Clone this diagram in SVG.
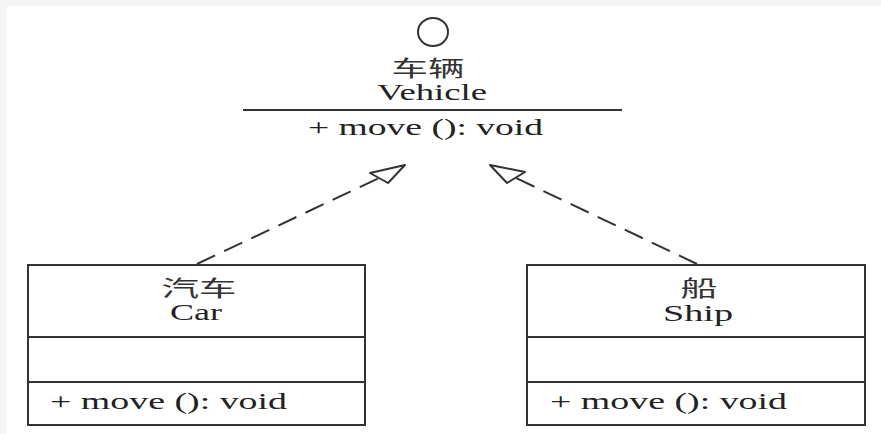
<svg xmlns="http://www.w3.org/2000/svg" width="881" height="434" viewBox="0 0 881 434">
<style>
.t{font-family:"Liberation Serif","Noto Sans CJK SC",serif;font-size:23px;fill:#222;text-anchor:middle}
.m{font-family:"Liberation Serif",serif;font-size:23px;fill:#222}
.c{font-family:"Noto Sans CJK SC",sans-serif;font-size:22px;fill:#333;text-anchor:middle}
.box{fill:#fff;stroke:#333;stroke-width:2}
.ln{stroke:#333;stroke-width:2;fill:none}
.dash{stroke:#333;stroke-width:2;fill:none;stroke-dasharray:20 10}
.head{fill:#fff;stroke:#333;stroke-width:2;stroke-linejoin:round}
</style>
<rect width="881" height="434" fill="#f5f5f5"/>
<rect x="7" y="6" width="874" height="428" fill="#fff"/>
<g id="vehicle">
<ellipse cx="433" cy="32" rx="15" ry="14" class="ln"/>
<text x="428" y="76" class="c" textLength="73" lengthAdjust="spacingAndGlyphs">车辆</text>
<text x="432" y="100" class="t" textLength="110" lengthAdjust="spacingAndGlyphs">Vehicle</text>
<line x1="243" y1="110" x2="622" y2="110" class="ln"/>
<text x="308" y="135" class="m" textLength="235" lengthAdjust="spacingAndGlyphs">+ move (): void</text>
</g>
<g id="car">
<rect x="28" y="265" width="337" height="160" class="box"/>
<line x1="28" y1="337" x2="365" y2="337" class="ln"/>
<line x1="28" y1="382" x2="365" y2="382" class="ln"/>
<text x="199" y="296" class="c" textLength="75" lengthAdjust="spacingAndGlyphs">汽车</text>
<text x="196" y="320" class="t" textLength="52" lengthAdjust="spacingAndGlyphs">Car</text>
<text x="50" y="409" class="m" textLength="237" lengthAdjust="spacingAndGlyphs">+ move (): void</text>
</g>
<g id="ship">
<rect x="527" y="265" width="338" height="160" class="box"/>
<line x1="527" y1="337" x2="865" y2="337" class="ln"/>
<line x1="527" y1="382" x2="865" y2="382" class="ln"/>
<text x="699" y="296" class="c" textLength="37" lengthAdjust="spacingAndGlyphs">船</text>
<text x="698" y="321" class="t" textLength="70" lengthAdjust="spacingAndGlyphs">Ship</text>
<text x="550" y="409" class="m" textLength="237" lengthAdjust="spacingAndGlyphs">+ move (): void</text>
</g>
<g id="connectors">
<line x1="197" y1="264" x2="379" y2="178" class="dash"/>
<polygon points="405,165 370,173 388,183" class="head"/>
<line x1="697" y1="264" x2="516" y2="178" class="dash"/>
<polygon points="490,165 525,172 507,183" class="head"/>
</g>
</svg>
